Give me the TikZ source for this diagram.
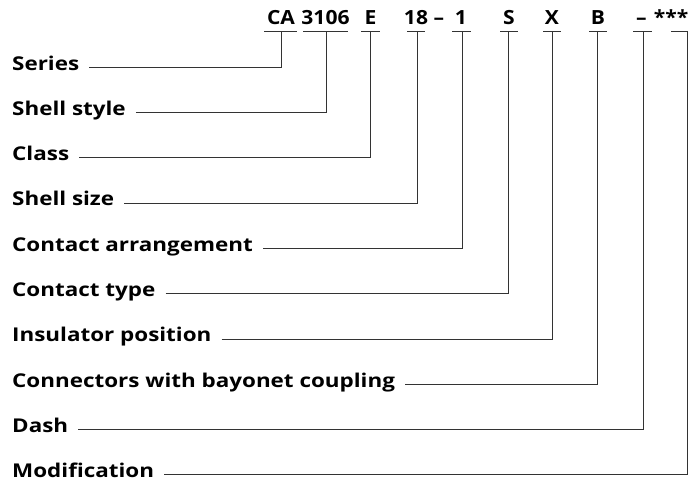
\documentclass[tikz,border=0pt]{standalone}
\usepackage{fontspec}
\setmainfont{Open Sans}
\newfontfamily\labfont{Open Sans}[FakeStretch=1.18]
\newfontfamily\codefont{Open Sans}[FakeStretch=1.08]
\usetikzlibrary{calc}
\begin{document}
\begin{tikzpicture}[x=1pt,y=-1pt,
  lab/.style={anchor=base west,inner sep=0pt,font=\labfont\fontsize{19}{23}\selectfont\bfseries},
  code/.style={anchor=base,inner sep=0pt,font=\codefont\fontsize{19.5}{23}\selectfont\bfseries},
  ln/.style={line width=0.9pt,draw=black!80}]
\useasboundingbox (0,0) rectangle (690,479);
% code parts
\node[code] (cCA) at (281,24.5) {CA};
\node[code] (c3106) at (325.5,24.5) {3106};
\node[code] (cE) at (370.5,24.5) {E};
\node[code] (c18) at (416,24.5) {18};
\node[code] (cdashA) at (439,24.5) {–};
\node[code] (c1) at (461,24.5) {1};
\node[code] (cS) at (509,24.5) {S};
\node[code] (cX) at (552,24.5) {X};
\node[code] (cB) at (598,24.5) {B};
\node[code] (cdashB) at (641.5,24.5) {–};
\node[code] (cast) at (671,24.5) {***};
% underlines
\draw[ln] (264,31) -- (297,31);
\draw[ln] (303,31) -- (348,31);
\draw[ln] (361,31) -- (380,31);
\draw[ln] (407,31) -- (425,31);
\draw[ln] (452,31) -- (471,31);
\draw[ln] (500,31) -- (518,31);
\draw[ln] (543,31) -- (561,31);
\draw[ln] (589,31) -- (607,31);
\draw[ln] (633,31) -- (652,31);
\coordinate (uCA) at (281,31);
\coordinate (u3106) at (326,31);
\coordinate (uE) at (370,31);
\coordinate (u18) at (417,31);
\coordinate (u1) at (462,31);
\coordinate (uS) at (508,31);
\coordinate (uX) at (552,31);
\coordinate (uB) at (597,31);
\coordinate (udash) at (643,31);
\coordinate (uast) at (687,31);
% labels
\node[lab] (lSeries) at (12,70) {Series};
\node[lab] (lShell) at (12,115.3) {Shell style};
\node[lab] (lClass) at (12,160.6) {Class};
\node[lab] (lSize) at (12,205.9) {Shell size};
\node[lab] (lArr) at (12,251.2) {Contact arrangement};
\node[lab] (lType) at (12,296.5) {Contact type};
\node[lab] (lIns) at (12,341.8) {Insulator position};
\node[lab] (lBay) at (12,387.1) {Connectors with bayonet coupling};
\node[lab] (lDash) at (12,432.4) {Dash};
\node[lab] (lMod) at (12,477.4) {Modification};
% connectors
\draw[ln] ($(lSeries.base east)+(10,-2.7)$) -| (uCA);
\draw[ln] ($(lShell.base east)+(10,-2.7)$) -| (u3106);
\draw[ln] ($(lClass.base east)+(10,-2.7)$) -| (uE);
\draw[ln] ($(lSize.base east)+(10,-2.7)$) -| (u18);
\draw[ln] ($(lArr.base east)+(10,-2.7)$) -| (u1);
\draw[ln] ($(lType.base east)+(10,-2.7)$) -| (uS);
\draw[ln] ($(lIns.base east)+(10,-2.7)$) -| (uX);
\draw[ln] ($(lBay.base east)+(10,-2.7)$) -| (uB);
\draw[ln] ($(lDash.base east)+(10,-2.7)$) -| (udash);
\draw[ln] ($(lMod.base east)+(10,-2.7)$) -| (uast) -- ++(-16,0);
\end{tikzpicture}
\end{document}
